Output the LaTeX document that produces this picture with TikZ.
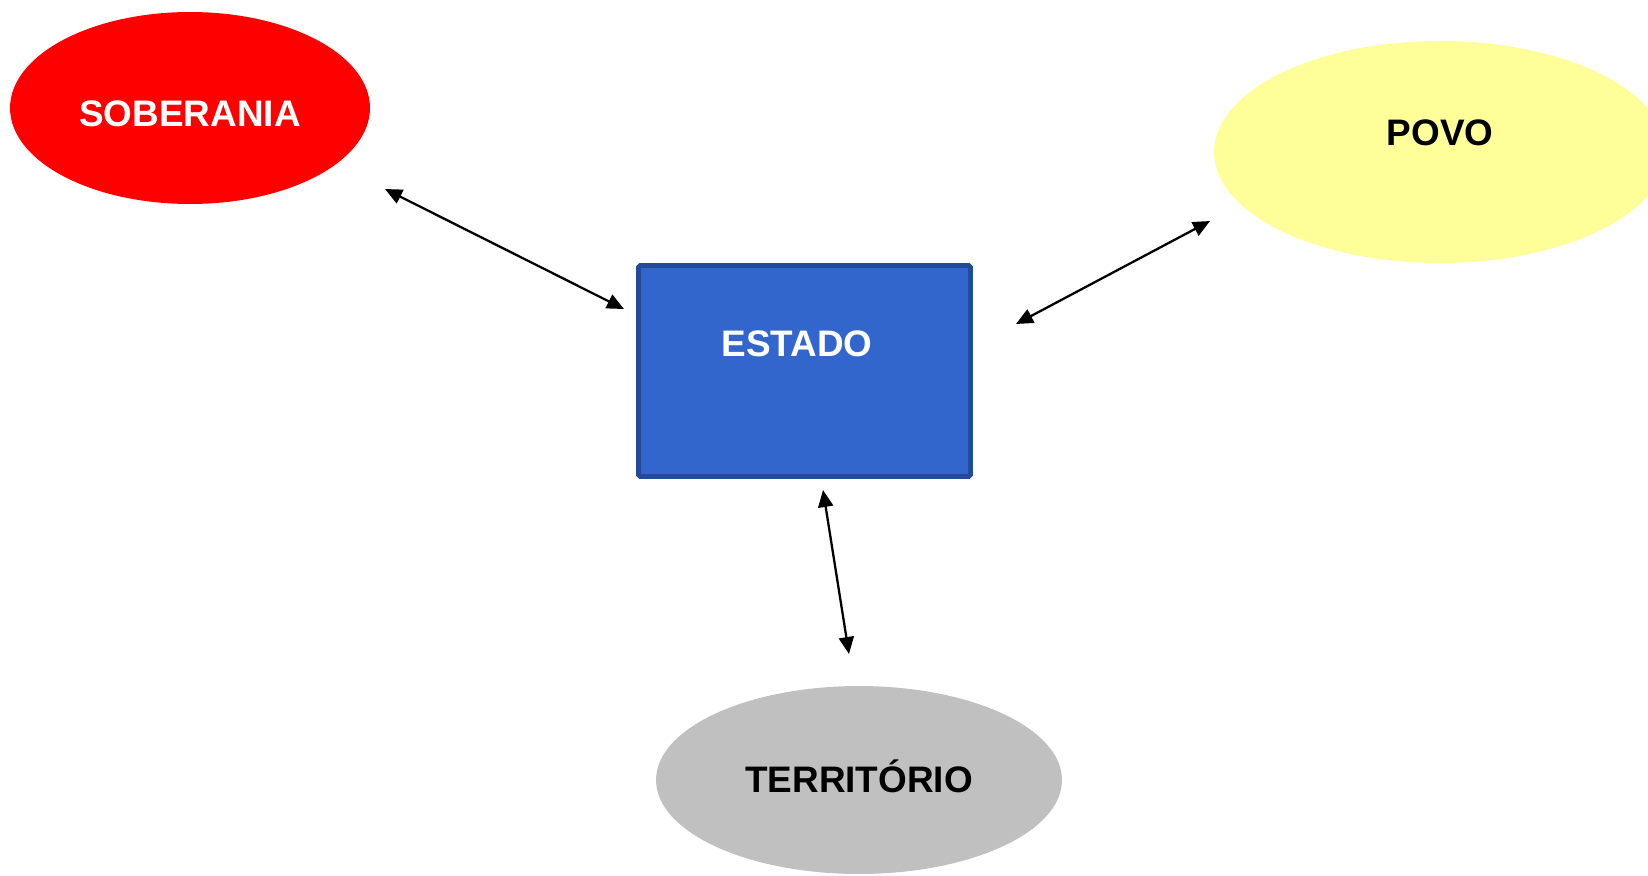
\documentclass[tikz,border=0pt]{standalone}
\usepackage{fontspec}
\setmainfont{Liberation Sans}
\usetikzlibrary{shapes.geometric,arrows.meta}
\definecolor{sobred}{HTML}{FF0000}
\definecolor{povoyellow}{HTML}{FFFF99}
\definecolor{terrgray}{HTML}{C0C0C0}
\definecolor{estadoblue}{HTML}{3366CC}
\definecolor{estadoedge}{HTML}{244A9A}
\tikzstyle{blob}=[ellipse,inner sep=0pt]
\tikzstyle{caption}=[font=\fontsize{21}{25}\selectfont\bfseries]
\tikzstyle{link}=[line width=1.3pt,{Triangle[length=0.34cm,width=0.3cm]}-{Triangle[length=0.34cm,width=0.3cm]}]
\newcommand{\blob}{\node[blob]}

\begin{document}
\begin{tikzpicture}[x=0.02cm,y=-0.02cm]
			\useasboundingbox (0,0) rectangle (1648,875);
			% % % % % % % % % % % % % % % % % % % % % % % % % % % % %
			\blob [fill=sobred,minimum width=7.2cm,minimum height=3.84cm,
				label={[caption,text=white,yshift=-0.12cm]center:SOBERANIA}] (sob) at (190,108) {};
			\blob [fill=povoyellow,minimum width=9.04cm,minimum height=4.44cm,
				label={[caption,yshift=0.38cm]center:POVO}] (povo) at (1440,152) {};
			\blob [fill=terrgray,minimum width=8.12cm,minimum height=3.76cm,
				label={[caption,yshift=0.08cm]center:TERRITÓRIO}] (terr) at (859,780) {};
			\node [rectangle,fill=estadoblue,draw=estadoedge,line width=2.8pt,rounded corners=1pt,
				minimum width=6.64cm,minimum height=4.22cm,
				label={[caption,text=white,xshift=-0.15cm,yshift=0.54cm]center:ESTADO}] (est) at (804.5,371) {};
			%*********************
			\coordinate (s1) at (385,189);
			\coordinate (s2) at (624,309);
			\coordinate (p1) at (1016,324);
			\coordinate (p2) at (1210,221);
			\coordinate (t1) at (823,490);
			\coordinate (t2) at (849,654);
			\path
			% % % % % % % % % % % % % % % % %
			(s1) edge [link] (s2)
			(p1) edge [link] (p2)
			(t1) edge [link] (t2)
			;
\end{tikzpicture}
\end{document}
